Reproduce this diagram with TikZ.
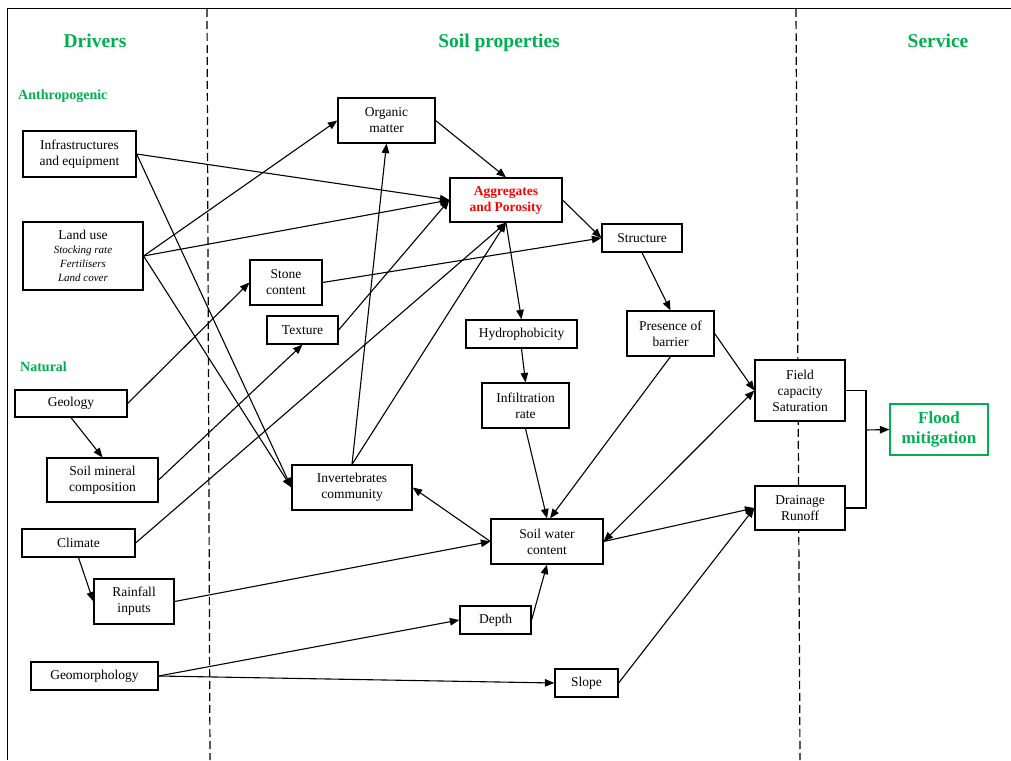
\documentclass[tikz,border=0pt]{standalone}
\usepackage{fontspec}
\setmainfont{Liberation Serif}
\usetikzlibrary{arrows.meta,calc}
\definecolor{hdgreen}{RGB}{0,176,80}
\begin{document}
\begin{tikzpicture}[x=1pt,y=-1pt,
 bx/.style={draw, line width=1.2pt, fill=white, align=center, inner sep=0pt, font=\fontsize{13.5}{16}\selectfont},
 conn/.style={line width=1.1pt, -{Triangle[length=9.5pt,width=7.5pt]}},
 dblarrow/.style={line width=1.1pt, {Triangle[length=9.5pt,width=7.5pt]}-{Triangle[length=9.5pt,width=7.5pt]}},
 lnk/.style={line width=1.1pt},
 hdr/.style={text=hdgreen, font=\fontsize{19.5}{22}\selectfont\bfseries, anchor=base, inner sep=0pt},
 subhdr/.style={text=hdgreen, font=\fontsize{14}{16}\selectfont\bfseries, anchor=base west, inner sep=0pt},
 divider/.style={dash pattern=on 8pt off 4pt, line width=1.2pt}
]
\useasboundingbox (0,0) rectangle (1011,760);
\fill[white] (0,0) rectangle (1011,760);
% frame
\draw[line width=1pt] (7,760) -- (7,9) -- (1011,9);
% dividers
\draw[divider] (207,9) -- (210,760);
\draw[divider] (796,9) -- (800,760);
% headers
\node[hdr] (hdrivers) at (95,47.5) {Drivers};
\node[hdr] (hsoil) at (499,47.5) {Soil properties};
\node[hdr] (hservice) at (938,47.5) {Service};
\node[subhdr] (hanthro) at (18,99) {Anthropogenic};
\node[subhdr] (hnatural) at (20,371) {Natural};
% nodes
\node[bx, minimum width=113pt, minimum height=46pt] (infra) at (79.5,154) {Infrastructures\\and equipment};
\node[bx, minimum width=120pt, minimum height=68pt] (landuse) at (83,256) {Land use\\[-2pt]{\fontsize{11}{13}\selectfont\itshape Stocking rate}\\[-2pt]{\fontsize{11}{13}\selectfont\itshape Fertilisers}\\[-2pt]{\fontsize{11}{13}\selectfont\itshape Land cover}};
\node[bx, minimum width=112pt, minimum height=27pt] (geology) at (71,403.5) {Geology};
\node[bx, minimum width=111pt, minimum height=44pt] (mineral) at (102.5,480) {Soil mineral\\composition};
\node[bx, minimum width=113pt, minimum height=28pt] (climate) at (78.5,543) {Climate};
\node[bx, minimum width=80pt, minimum height=45pt] (rain) at (134,601.5) {Rainfall\\inputs};
\node[bx, minimum width=127pt, minimum height=28pt] (geomorph) at (94.5,676) {Geomorphology};
\node[bx, minimum width=97pt, minimum height=45pt] (organic) at (386.5,120.5) {Organic\\matter};
\node[bx, minimum width=112pt, minimum height=44pt, text=red, font=\fontsize{13.5}{16}\selectfont\bfseries] (agg) at (506,200) {Aggregates\\and Porosity};
\node[bx, minimum width=80pt, minimum height=28pt] (structure) at (642,238) {Structure};
\node[bx, minimum width=72pt, minimum height=45pt] (stone) at (286,282.5) {Stone\\content};
\node[bx, minimum width=71pt, minimum height=28pt] (texture) at (302.5,330) {Texture};
\node[bx, minimum width=111pt, minimum height=28pt] (hydro) at (521.5,334) {Hydrophobicity};
\node[bx, minimum width=87pt, minimum height=45pt] (barrier) at (670.5,333.5) {Presence of\\barrier};
\node[bx, minimum width=87pt, minimum height=45pt] (infil) at (525.5,405.5) {Infiltration\\rate};
\node[bx, minimum width=90pt, minimum height=61pt] (field) at (800,390.5) {Field\\capacity\\Saturation};
\node[bx, draw=hdgreen, minimum width=98pt, minimum height=51pt, text=hdgreen, font=\fontsize{17}{20}\selectfont\bfseries] (flood) at (939,429.5) {Flood\\mitigation};
\node[bx, minimum width=120pt, minimum height=45pt] (invert) at (352,487.5) {Invertebrates\\community};
\node[bx, minimum width=112pt, minimum height=45pt] (swc) at (547,541.5) {Soil water\\content};
\node[bx, minimum width=90pt, minimum height=44pt] (drain) at (800,508) {Drainage\\Runoff};
\node[bx, minimum width=71pt, minimum height=28pt] (depth) at (495.5,620) {Depth};
\node[bx, minimum width=63pt, minimum height=28pt] (slope) at (586.5,683) {Slope};
\coordinate (fork) at (866,430);
% connectors
\draw[conn] (infra.east) -- (agg.west);
\draw[conn] (landuse.east) -- (agg.west);
\draw[conn] (texture.east) -- (agg.west);
\draw[conn] (infra.east) -- (invert.west);
\draw[conn] (landuse.east) -- (invert.west);
\draw[conn] (landuse.east) -- (organic.west);
\draw[conn] (organic.east) -- (agg.north);
\draw[conn] (agg.east) -- (structure.west);
\draw[conn] (stone.east) -- (structure.west);
\draw[conn] (agg.south) -- (hydro.north);
\draw[conn] (structure.south) -- (barrier.north);
\draw[conn] (hydro.south) -- (infil.north);
\draw[conn] (infil.south) -- (swc.north);
\draw[conn] (barrier.south) -- ($(swc.north)+(3,0)$);
\draw[conn] (barrier.east) -- (field.west);
\draw[dblarrow] (swc.east) -- (field.west);
\draw[conn] (swc.east) -- (drain.west);
\draw[conn] (slope.east) -- (drain.west);
\draw[lnk] (field.east) -| (fork);
\draw[lnk] (drain.east) -| (fork);
\draw[conn] (fork) -- (flood.west);
\draw[conn] (swc.west) -- (invert.east);
\draw[conn] (rain.east) -- (swc.west);
\draw[conn] (depth.east) -- (swc.south);
\draw[conn] (geomorph.east) -- (depth.west);
\draw[conn] (geomorph.east) -- (slope.west);
\draw[conn] (climate.south) -- (rain.west);
\draw[conn] (climate.east) -- (agg.south);
\draw[conn] (geology.east) -- (stone.west);
\draw[conn] (geology.south) -- (mineral.north);
\draw[conn] (mineral.east) -- (texture.south);
\draw[conn] (invert.north) -- (organic.south);
\draw[conn] (invert.north) -- (agg.south);
\end{tikzpicture}
\end{document}
